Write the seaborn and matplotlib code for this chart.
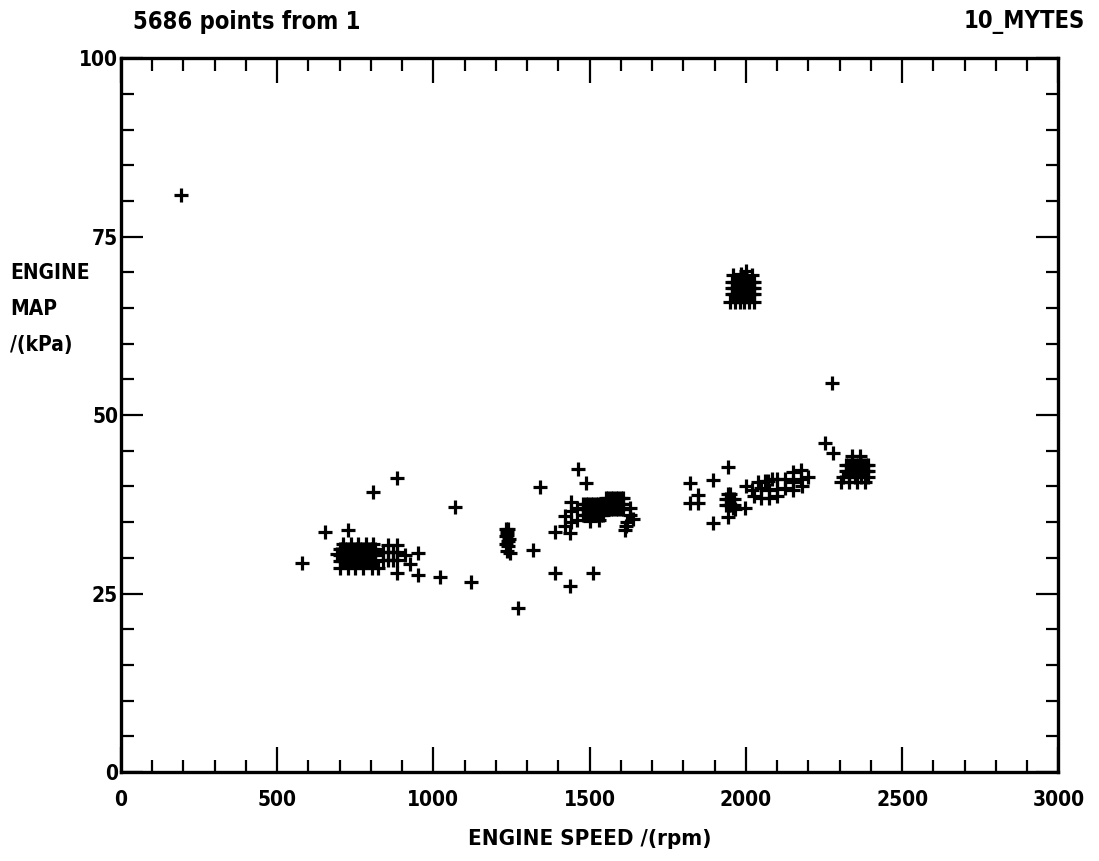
import pandas as pd
import matplotlib
matplotlib.use('Agg')
import matplotlib.pyplot as plt
import seaborn as sns
from matplotlib.ticker import MultipleLocator

# isolated points
lone_speed = [192, 580, 653, 727, 807, 883, 1070, 951, 951, 883, 1021, 1120, 1271, 1319,
              1342, 1390, 1438, 1511, 1463, 1489, 1390, 1438, 1614, 1822, 1848, 1822, 1848,
              1896, 1944, 1896, 1998, 1944, 2254, 2280, 2276, 910, 925]
lone_map = [80.9, 29.3, 33.6, 33.9, 39.2, 41.2, 37.1, 30.7, 27.6, 27.9, 27.3, 26.6, 23.0, 31.1,
            39.9, 27.9, 26.1, 27.9, 42.4, 40.5, 33.6, 33.5, 33.9, 40.5, 38.8, 37.7, 37.7,
            40.9, 42.7, 34.9, 37.0, 35.7, 46.1, 44.7, 54.5, 30.4, 29.2]

# idle cluster (~750 rpm)
idle_speed = [700, 708, 716, 724, 732, 740, 748, 756, 764, 772, 780, 788, 796, 804, 812,
              700, 708, 716, 724, 732, 740, 748, 756, 764, 772, 780, 788, 796, 804, 812,
              700, 708, 716, 724, 732, 740, 748, 756, 764, 772, 780, 788, 796, 804, 812,
              701, 727, 749, 775, 804, 823,
              712, 735, 760, 785, 808,
              840, 855, 870, 883, 840, 855, 870, 883, 855, 883, 690]
idle_map = [29.6, 29.6, 29.6, 29.6, 29.6, 29.6, 29.6, 29.6, 29.6, 29.6, 29.6, 29.6, 29.6, 29.6, 29.6,
            30.4, 30.4, 30.4, 30.4, 30.4, 30.4, 30.4, 30.4, 30.4, 30.4, 30.4, 30.4, 30.4, 30.4, 30.4,
            31.2, 31.2, 31.2, 31.2, 31.2, 31.2, 31.2, 31.2, 31.2, 31.2, 31.2, 31.2, 31.2, 31.2, 31.2,
            28.6, 28.6, 28.6, 28.6, 28.6, 28.6,
            32.0, 32.0, 32.0, 32.0, 32.0,
            29.7, 29.7, 29.7, 29.7, 30.8, 30.8, 30.8, 30.8, 31.8, 31.8, 30.6]

# stack near 1240 rpm
s1240_speed = [1232, 1240, 1236, 1242, 1232, 1240, 1236, 1246, 1232, 1240, 1236]
s1240_map = [34.0, 34.0, 33.2, 32.6, 32.0, 31.6, 31.0, 30.7, 33.0, 32.4, 33.6]

# cruise cluster (~1550 rpm)
c1550_speed = [1480, 1488, 1496, 1504, 1512, 1520, 1528, 1536, 1544,
               1480, 1488, 1496, 1504, 1512, 1520, 1528, 1536, 1544,
               1480, 1488, 1496, 1504, 1512, 1520, 1528, 1536, 1544,
               1552, 1560, 1568, 1576, 1584, 1592, 1600, 1608,
               1552, 1560, 1568, 1576, 1584, 1592, 1600, 1608,
               1552, 1560, 1568, 1576, 1584, 1592, 1600, 1608,
               1420, 1440, 1420, 1440, 1460, 1460, 1440, 1620, 1630, 1640, 1615, 1630, 1500, 1530]
c1550_map = [36.0, 36.0, 36.0, 36.0, 36.0, 36.0, 36.0, 36.0, 36.0,
             36.8, 36.8, 36.8, 36.8, 36.8, 36.8, 36.8, 36.8, 36.8,
             37.6, 37.6, 37.6, 37.6, 37.6, 37.6, 37.6, 37.6, 37.6,
             36.8, 36.8, 36.8, 36.8, 36.8, 36.8, 36.8, 36.8,
             37.6, 37.6, 37.6, 37.6, 37.6, 37.6, 37.6, 37.6,
             38.4, 38.4, 38.4, 38.4, 38.4, 38.4, 38.4, 38.4,
             34.5, 35.0, 35.8, 36.5, 35.3, 37.0, 37.8, 35.0, 36.0, 35.5, 34.4, 37.0, 35.2, 35.3]

# high load block (~2000 rpm)
c2000_speed = [1955, 1963, 1971, 1979, 1987, 1995, 2003, 2011, 2019, 2027,
               1955, 1963, 1971, 1979, 1987, 1995, 2003, 2011, 2019, 2027,
               1955, 1963, 1971, 1979, 1987, 1995, 2003, 2011, 2019, 2027,
               1950, 1965, 1980, 1995, 2010, 2025,
               1960, 1985, 2000, 2020]
c2000_map = [67.0, 67.0, 67.0, 67.0, 67.0, 67.0, 67.0, 67.0, 67.0, 67.0,
             67.8, 67.8, 67.8, 67.8, 67.8, 67.8, 67.8, 67.8, 67.8, 67.8,
             68.6, 68.6, 68.6, 68.6, 68.6, 68.6, 68.6, 68.6, 68.6, 68.6,
             65.9, 65.9, 65.9, 65.9, 65.9, 65.9,
             69.6, 69.8, 70.2, 69.6]

# small blob ~1950 rpm, 38 kPa
c1950_speed = [1938, 1946, 1954, 1962, 1938, 1946, 1954, 1962, 1942, 1950, 1958, 1966]
c1950_map = [37.4, 37.4, 37.4, 37.4, 38.2, 38.2, 38.2, 38.2, 39.0, 39.0, 37.0, 36.8]

# rising chain 2000-2200 rpm
chain_speed = [2000, 2020, 2025, 2050, 2050, 2070, 2075, 2075, 2100, 2100, 2100, 2125, 2125,
               2150, 2150, 2150, 2175, 2175, 2180, 2200, 2060, 2085, 2040]
chain_map = [40.0, 39.5, 38.6, 39.8, 38.4, 40.8, 39.5, 38.4, 41.0, 39.6, 38.6, 41.0, 39.8,
             42.0, 40.6, 39.5, 42.3, 41.0, 40.0, 41.3, 40.8, 41.0, 40.6]

# cluster ~2350 rpm
c2350_speed = [2320, 2328, 2336, 2344, 2352, 2360, 2368, 2376, 2384, 2392,
               2320, 2328, 2336, 2344, 2352, 2360, 2368, 2376, 2384, 2392,
               2310, 2330, 2350, 2370, 2390, 2305, 2330, 2355, 2380, 2340, 2365]
c2350_map = [42.2, 42.2, 42.2, 42.2, 42.2, 42.2, 42.2, 42.2, 42.2, 42.2,
             43.0, 43.0, 43.0, 43.0, 43.0, 43.0, 43.0, 43.0, 43.0, 43.0,
             41.3, 41.3, 41.3, 41.3, 41.3, 40.6, 40.6, 40.6, 40.6, 44.2, 44.3]

speed = (lone_speed + idle_speed + s1240_speed + c1550_speed + c2000_speed
         + c1950_speed + chain_speed + c2350_speed)
pmap = (lone_map + idle_map + s1240_map + c1550_map + c2000_map
        + c1950_map + chain_map + c2350_map)
df = pd.DataFrame({'speed': speed, 'map': pmap})

sns.set_style('white')
plt.rcParams['font.family'] = ['DejaVu Sans']
plt.rcParams['font.stretch'] = 'condensed'
plt.rcParams['font.weight'] = 'bold'
for k in ['text.color', 'axes.labelcolor', 'xtick.color', 'ytick.color']:
    plt.rcParams[k] = 'black'

fig = plt.figure(figsize=(10.99, 8.61), dpi=100)
ax = fig.add_axes([0.110, 0.1034, 0.853, 0.829])

sns.scatterplot(data=df, x='speed', y='map', marker='+', s=115, color='black',
                linewidth=2.3, ax=ax)

ax.set_xlim(0, 3000)
ax.set_ylim(0, 100)
ax.set_xticks(range(0, 3001, 500))
ax.set_yticks(range(0, 101, 25))
ax.xaxis.set_minor_locator(MultipleLocator(100))
ax.yaxis.set_minor_locator(MultipleLocator(5))
ax.tick_params(which='both', direction='in', bottom=True, left=True, top=True, right=True,
               color='black', labelsize=15, width=1.6)
ax.tick_params(axis='x', which='major', length=18, pad=13)
ax.tick_params(axis='y', which='major', length=16, pad=2)
ax.tick_params(which='minor', length=9)
for sp in ax.spines.values():
    sp.set_linewidth(2.4)
    sp.set_color('black')

ax.set_xlabel('ENGINE SPEED /(rpm)', fontsize=16, fontweight='bold', labelpad=14)
ax.set_ylabel('ENGINE\nMAP\n/(kPa)', fontsize=15, fontweight='bold', rotation=0,
              ha='left', va='center', multialignment='left', linespacing=2.0)
ax.yaxis.set_label_coords(-0.118, 0.648)

fig.text(0.121, 0.974, '5686 points from 1', fontsize=17, fontweight='bold',
         ha='left', va='center')
fig.text(0.987, 0.974, '10_MYTES', fontsize=17, fontweight='bold',
         ha='right', va='center')

fig.savefig('out.png', dpi=100)
